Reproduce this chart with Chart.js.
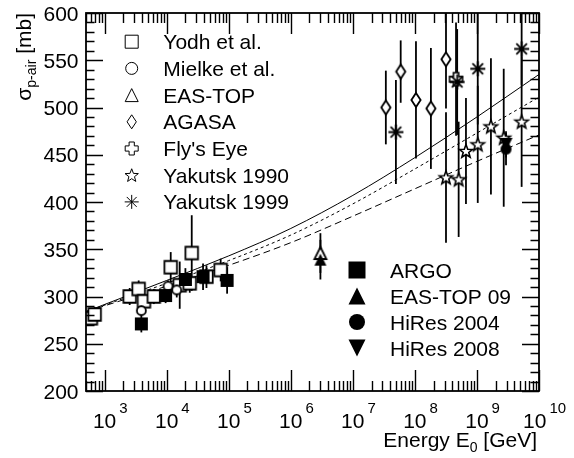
<!DOCTYPE html>
<html>
<head>
<meta charset="utf-8">
<script src="https://cdn.jsdelivr.net/npm/chart.js@4.4.1/dist/chart.umd.min.js"></script>
<style>
  html, body { margin: 0; padding: 0; background: #fff; }
  #wrap { width: 574px; height: 458px; }
</style>
</head>
<body>
<div id="wrap"><canvas id="c" width="574" height="458"></canvas></div>
<script>
/* ---- DATA (E0 in GeV, sigma in mb) ---- */
const X_MIN = 500, X_MAX = 1e10;
const Y_MIN = 200, Y_MAX = 600;
const yTickLabels = ["200","250","300","350","400","450","500","550","600"];
const xTickExps = [3,4,5,6,7,8,9,10];

const yodhE   = [600, 690, 2530, 3530, 4300, 6200, 11600, 16200, 23500, 25300, 43700, 74000];
const yodhS   = [277, 281, 300, 308, 295, 300, 331, 312, 314, 346, 321, 328];
const yodhErr = [6, 8, 9, 9, 8, 8, 16, 25, 10, 40, 12, 12];

const mielkeE   = [3900, 10500, 14500];
const mielkeS   = [285, 311, 307];
const mielkeErr = [5, 6, 8];

const eastopE = [3.0e6], eastopS = [346], eastopErr = [21];

const agasaE   = [3.4e7, 5.9e7, 1.04e8, 1.81e8, 3.17e8];
const agasaS   = [500, 538, 508, 499, 551];
const agasaErr = [39, 33, 62, 64, 52];

const flysE = [4.6e8], flysS = [530], flysErr = [60];

const yak90E   = [3.17e8, 5.07e8, 6.65e8, 1.03e9, 1.68e9, 2.7e9, 5.25e9];
const yak90S   = [426, 424, 454, 461, 480, 468, 485];
const yak90Err = [69, 61, 56, 62, 72, 73, 69];

const yak99E   = [4.94e7, 4.8e8, 1.03e9, 5.25e9];
const yak99S   = [474, 527, 541, 562];
const yak99Err = [55, 56, 59, 38];

const argoE   = [3900, 9600, 20000, 38500, 94000];
const argoS   = [271, 301, 318, 321, 317];
const argoErr = [9, 8, 12, 14, 14];

const eastop09E = [3.0e6], eastop09S = [339], eastop09Err = [21];
const hires04E = [2.94e9], hires04S = [456], hires04Err = [17];
const hires08E = [2.94e9], hires08S = [461], hires08Err = [14];

// model curves
const curveE  = [500, 1e4, 1e5, 1e6, 1e7, 1e8, 1e9, 1e10];
const solidS  = [284, 317, 343, 372, 407, 447, 490, 535];
const dottedS = [284, 314, 338, 365, 398, 435, 473, 511];
const dashedS = [284, 311, 333, 357, 385, 414, 443, 471];

const legend1Labels = ["Yodh et al.", "Mielke et al.", "EAS-TOP", "AGASA", "Fly's Eye", "Yakutsk 1990", "Yakutsk 1999"];
const legend1Marks  = ["sq", "ci", "tri", "dia", "cross", "star", "ast"];
const legend2Labels = ["ARGO", "EAS-TOP 09", "HiRes 2004", "HiRes 2008"];
const legend2Marks  = ["fsq", "ftri", "fci", "dtri"];

const FONT = '"Liberation Sans", Arial, sans-serif';

/* ---- markers ---- */
function drawMarker(ctx, type, x, y, s, lw){
  const h = s/2;
  ctx.save();
  ctx.lineWidth = lw; ctx.strokeStyle = "#000"; ctx.fillStyle = "#fff";
  ctx.lineJoin = "miter";
  ctx.beginPath();
  switch(type){
    case "sq":  ctx.rect(x-h, y-h, s, s); ctx.fill(); ctx.stroke(); break;
    case "fsq": ctx.fillStyle = "#000"; ctx.rect(x-h, y-h, s, s); ctx.fill(); break;
    case "ci":  ctx.arc(x, y, h, 0, Math.PI*2); ctx.fill(); ctx.stroke(); break;
    case "fci": ctx.fillStyle = "#000"; ctx.arc(x, y, h, 0, Math.PI*2); ctx.fill(); break;
    case "tri":
      ctx.moveTo(x, y-h); ctx.lineTo(x+h, y+h); ctx.lineTo(x-h, y+h); ctx.closePath();
      ctx.fill(); ctx.stroke(); break;
    case "ftri":
      ctx.fillStyle = "#000";
      ctx.moveTo(x, y-h); ctx.lineTo(x+h, y+h); ctx.lineTo(x-h, y+h); ctx.closePath(); ctx.fill(); break;
    case "dtri":
      ctx.fillStyle = "#000";
      ctx.moveTo(x, y+h); ctx.lineTo(x+h, y-h); ctx.lineTo(x-h, y-h); ctx.closePath(); ctx.fill(); break;
    case "dia": {
      const w = s*0.33;
      ctx.moveTo(x, y-h); ctx.lineTo(x+w, y); ctx.lineTo(x, y+h); ctx.lineTo(x-w, y); ctx.closePath();
      ctx.fill(); ctx.stroke(); break;
    }
    case "cross": {
      const a = s*0.2;
      ctx.moveTo(x-a, y-h); ctx.lineTo(x+a, y-h); ctx.lineTo(x+a, y-a); ctx.lineTo(x+h, y-a);
      ctx.lineTo(x+h, y+a); ctx.lineTo(x+a, y+a); ctx.lineTo(x+a, y+h); ctx.lineTo(x-a, y+h);
      ctx.lineTo(x-a, y+a); ctx.lineTo(x-h, y+a); ctx.lineTo(x-h, y-a); ctx.lineTo(x-a, y-a); ctx.closePath();
      ctx.fill(); ctx.stroke(); break;
    }
    case "star": {
      const ri = h*0.42;
      for(let k=0;k<10;k++){
        const r = k%2 ? ri : h;
        const ang = -Math.PI/2 + k*Math.PI/5;
        const px = x + r*Math.cos(ang), py = y + r*Math.sin(ang) + h*0.08;
        k ? ctx.lineTo(px, py) : ctx.moveTo(px, py);
      }
      ctx.closePath(); ctx.fill(); ctx.stroke(); break;
    }
    case "ast":
      for(let k=0;k<4;k++){
        const ang = k*Math.PI/4;
        ctx.moveTo(x - h*Math.cos(ang), y - h*Math.sin(ang));
        ctx.lineTo(x + h*Math.cos(ang), y + h*Math.sin(ang));
      }
      ctx.stroke(); break;
  }
  ctx.restore();
}

function markerCanvas(type, s, lw){
  const n = Math.ceil(s + lw*2 + 4);
  const c = document.createElement("canvas");
  c.width = n; c.height = n;
  drawMarker(c.getContext("2d"), type, n/2, n/2, s, lw);
  return c;
}

function pts(E, S){ return E.map((e,i)=>({x:e, y:S[i]})); }

function markSet(label, E, S, err, type, s, lw){
  return {type:"scatter", label, data:pts(E,S), err, pointStyle:markerCanvas(type, s, lw),
          pointRadius:6, showLine:false};
}
function curveSet(label, S, dash){
  return {type:"line", label, data:pts(curveE,S), borderColor:"#000", borderWidth:1,
          borderDash:dash, pointRadius:0, fill:false, cubicInterpolationMode:"monotone"};
}

/* ---- plugins ---- */
const errorBars = {
  id:"errorBars",
  beforeDatasetsDraw(chart){
    const {ctx, chartArea:a, scales:{x, y}} = chart;
    ctx.save();
    ctx.beginPath(); ctx.rect(a.left, a.top, a.right-a.left, a.bottom-a.top); ctx.clip();
    ctx.strokeStyle = "#000"; ctx.lineWidth = 1.8;
    chart.data.datasets.forEach(ds=>{
      if(!ds.err) return;
      ds.data.forEach((p,i)=>{
        const px = x.getPixelForValue(p.x);
        ctx.beginPath();
        ctx.moveTo(px, y.getPixelForValue(p.y + ds.err[i]));
        ctx.lineTo(px, y.getPixelForValue(p.y - ds.err[i]));
        ctx.stroke();
      });
    });
    ctx.restore();
  }
};

function drawRich(ctx, parts, x, y, align){
  // parts: [text, size, dy]
  let w = 0;
  parts.forEach(p=>{ ctx.font = `${p[1]}px ${FONT}`; w += ctx.measureText(p[0]).width; });
  let cx = align === "right" ? x - w : x;
  parts.forEach(p=>{
    ctx.font = `${p[1]}px ${FONT}`;
    ctx.fillText(p[0], cx, y + p[2]);
    cx += ctx.measureText(p[0]).width;
  });
}

const frame = {
  id:"frame",
  afterDraw(chart){
    const {ctx, chartArea:a, scales:{x, y}} = chart;
    ctx.save();
    ctx.strokeStyle = "#000"; ctx.fillStyle = "#000";
    ctx.lineWidth = 1.4;
    ctx.beginPath();
    for(let d=2; d<=10; d++) for(let m=1; m<=9; m++){
      const v = m*Math.pow(10,d);
      if(v < X_MIN || v > X_MAX) continue;
      const px = Math.round(x.getPixelForValue(v)) + 0.5;
      const len = m===1 ? 21 : 10;
      ctx.moveTo(px, a.bottom); ctx.lineTo(px, a.bottom-len);
      ctx.moveTo(px, a.top); ctx.lineTo(px, a.top+len);
    }
    for(let v=Y_MIN; v<=Y_MAX; v+=10){
      const py = Math.round(y.getPixelForValue(v)) + 0.5;
      const len = v%50===0 ? 17 : 8.5;
      ctx.moveTo(a.left, py); ctx.lineTo(a.left+len, py);
      ctx.moveTo(a.right, py); ctx.lineTo(a.right-len, py);
    }
    ctx.stroke();
    ctx.lineWidth = 1.8;
    ctx.strokeRect(a.left, a.top, a.right-a.left, a.bottom-a.top);

    // y tick labels
    ctx.textAlign = "right"; ctx.textBaseline = "alphabetic";
    ctx.font = `21px ${FONT}`;
    yTickLabels.forEach(t=>{
      ctx.fillText(t, a.left-7.5, y.getPixelForValue(+t) + 7.5);
    });
    // x tick labels 10^n
    ctx.textAlign = "left";
    xTickExps.forEach(n=>{
      const px = x.getPixelForValue(Math.pow(10,n));
      ctx.font = `21px ${FONT}`; const wb = ctx.measureText("10").width;
      ctx.font = `15px ${FONT}`; const we = ctx.measureText(String(n)).width;
      const left = px + 5.6 - (wb + 3 + we)/2;
      ctx.font = `21px ${FONT}`; ctx.fillText("10", left, 428);
      ctx.font = `15px ${FONT}`; ctx.fillText(String(n), left + wb + 3, 413);
    });
    // axis titles
    drawRich(ctx, [["Energy E",21,0],["0",14,5],[" [GeV]",21,0]], a.right-2, 447, "right");
    ctx.save();
    ctx.translate(31, a.top); ctx.rotate(-Math.PI/2);
    drawRich(ctx, [["\u03c3",21,0],["p-air",14,5],[" [mb]",21,0]], 0, 0, "right");
    ctx.restore();

    // legends
    ctx.font = `21px ${FONT}`;
    legend1Labels.forEach((t,i)=>{
      const cy = 41.7 + i*26.7;
      const m = legend1Marks[i];
      const s = m==="dia" ? 14 : (m==="ci" ? 12 : (m==="star"||m==="ast" ? 14 : 13));
      drawMarker(ctx, m, 131.7, cy, s, 1);
      ctx.fillStyle = "#000";
      ctx.fillText(t, 163.3, cy + 7.5);
    });
    legend2Labels.forEach((t,i)=>{
      const cy = 270 + i*26;
      drawMarker(ctx, legend2Marks[i], 357, cy, legend2Marks[i]==="fci" ? 16 : 17, 1);
      ctx.fillStyle = "#000";
      ctx.fillText(t, 390, cy + 7.5);
    });
    ctx.restore();
  }
};

/* ---- chart ---- */
new Chart(document.getElementById("c"), {
  type:"scatter",
  data:{
    datasets:[
      markSet("HiRes 2008", hires08E, hires08S, hires08Err, "dtri", 13, 1),
      markSet("HiRes 2004", hires04E, hires04S, hires04Err, "fci", 11, 1),
      markSet("EAS-TOP 09", eastop09E, eastop09S, eastop09Err, "ftri", 12, 1),
      markSet("ARGO", argoE, argoS, argoErr, "fsq", 13, 1),
      markSet("Yakutsk 1999", yak99E, yak99S, yak99Err, "ast", 15, 1.8),
      markSet("Yakutsk 1990", yak90E, yak90S, yak90Err, "star", 14, 1.6),
      markSet("Fly's Eye", flysE, flysS, flysErr, "cross", 13, 1.6),
      markSet("AGASA", agasaE, agasaS, agasaErr, "dia", 14, 1.8),
      markSet("EAS-TOP", eastopE, eastopS, eastopErr, "tri", 12, 1.8),
      markSet("Mielke et al.", mielkeE, mielkeS, mielkeErr, "ci", 9, 1.8),
      markSet("Yodh et al.", yodhE, yodhS, yodhErr, "sq", 12.5, 1.8),
      curveSet("solid", solidS, []),
      curveSet("dotted", dottedS, [3,3]),
      curveSet("dashed", dashedS, [7,4]),
    ]
  },
  options:{
    responsive:false, animation:false, events:[],
    layout:{padding:{left:86, right:35, top:13, bottom:67}},
    plugins:{legend:{display:false}, tooltip:{enabled:false}},
    scales:{
      x:{type:"logarithmic", min:X_MIN, max:X_MAX, display:false},
      y:{type:"linear", min:Y_MIN, max:Y_MAX, display:false}
    }
  },
  plugins:[errorBars, frame]
});
</script>
</body>
</html>
